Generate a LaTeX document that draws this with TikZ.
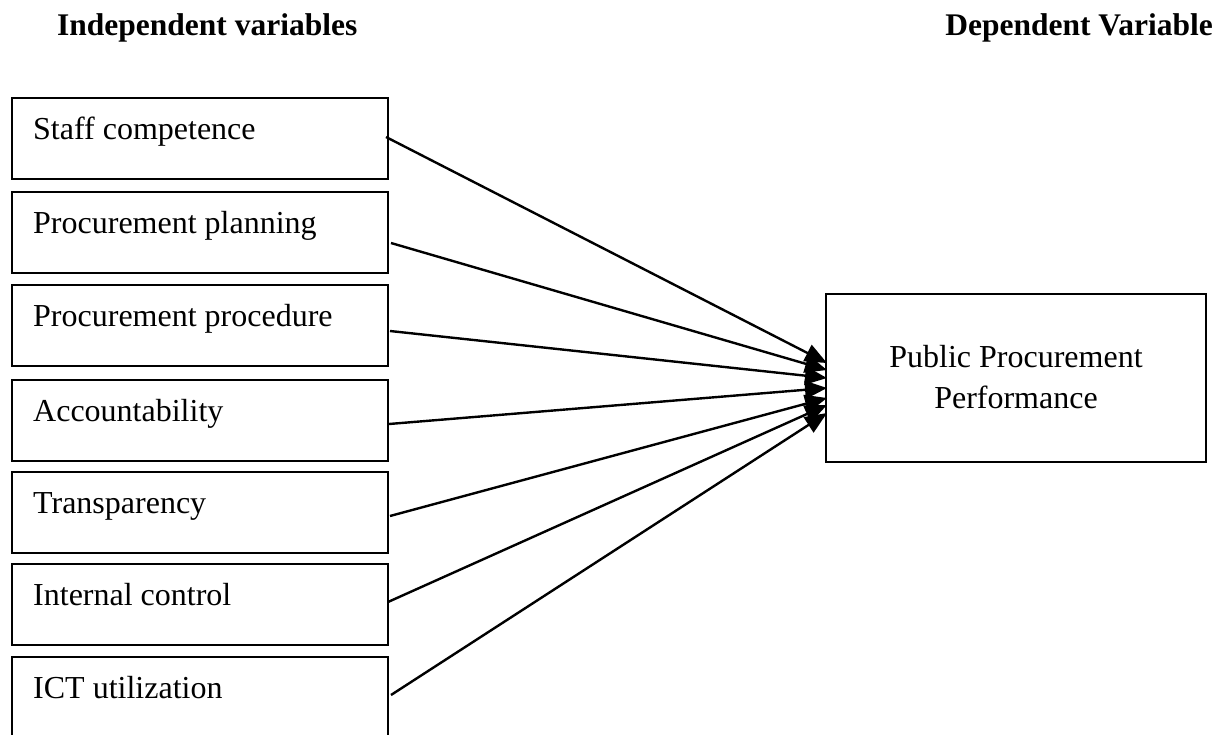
\documentclass[tikz,border=0pt]{standalone}
\usepackage{fontspec}
\setmainfont{Liberation Serif}
\usetikzlibrary{arrows.meta,calc}
\begin{document}
\begin{tikzpicture}[x=1pt,y=-1pt,
  box/.style={draw=black,line width=2.2pt,minimum width=376pt,minimum height=81pt,anchor=north west,inner sep=0pt,outer sep=0pt},
  lbl/.style={anchor=base west,inner sep=0pt,font=\fontsize{32}{38}\selectfont},
  head/.style={inner sep=0pt,font=\fontsize{31.5}{38}\selectfont\bfseries},
  arr/.style={line width=2.4pt,-{Triangle[length=22pt,width=18pt]}}]
\useasboundingbox (0,0) rectangle (1221,734);
% headers
\node[head,anchor=base west] (hi) at (57,35) {Independent variables};
\node[head,anchor=base east] (hd) at (1213,35) {Dependent Variable};
% independent variable boxes
\node[box] (b1) at (12,98) {};
\node[box] (b2) at (12,192) {};
\node[box] (b3) at (12,285) {};
\node[box] (b4) at (12,380) {};
\node[box] (b5) at (12,472) {};
\node[box] (b6) at (12,564) {};
\node[box] (b7) at (12,657) {};
\node[lbl] (t1) at ($(b1.north west)+(21,41)$) {Staff competence};
\node[lbl] (t2) at ($(b2.north west)+(21,41)$) {Procurement planning};
\node[lbl] (t3) at ($(b3.north west)+(21,41)$) {Procurement procedure};
\node[lbl] (t4) at ($(b4.north west)+(21,41)$) {Accountability};
\node[lbl] (t5) at ($(b5.north west)+(21,41)$) {Transparency};
\node[lbl] (t6) at ($(b6.north west)+(21,41)$) {Internal control};
\node[lbl] (t7) at ($(b7.north west)+(21,41)$) {ICT utilization};
% dependent variable box
\node[box,minimum width=380pt,minimum height=168pt] (dv) at (826,294) {};
\node[inner sep=0pt,align=center,font=\fontsize{32}{41}\selectfont,anchor=base] (dvt) at ($(dv.north)+(0,114)$) {Public Procurement\\Performance};
% connectors
\coordinate (s1) at ($(b1.north east)+(-2,39)$);
\coordinate (s2) at ($(b2.north east)+(3,51)$);
\coordinate (s3) at ($(b3.north east)+(2,46)$);
\coordinate (s4) at ($(b4.north east)+(1,44)$);
\coordinate (s5) at ($(b5.north east)+(2,44)$);
\coordinate (s6) at ($(b6.north east)+(0,38)$);
\coordinate (s7) at ($(b7.north east)+(3,38)$);
\coordinate (e1) at ($(dv.north west)+(1,69)$);
\coordinate (e2) at ($(dv.north west)+(1,76)$);
\coordinate (e3) at ($(dv.north west)+(1,84)$);
\coordinate (e4) at ($(dv.north west)+(1,94)$);
\coordinate (e5) at ($(dv.north west)+(1,104)$);
\coordinate (e6) at ($(dv.north west)+(1,111)$);
\coordinate (e7) at ($(dv.north west)+(1,119)$);
\foreach \i in {1,...,7}{\draw[arr] (s\i) -- (e\i);}
\end{tikzpicture}
\end{document}
